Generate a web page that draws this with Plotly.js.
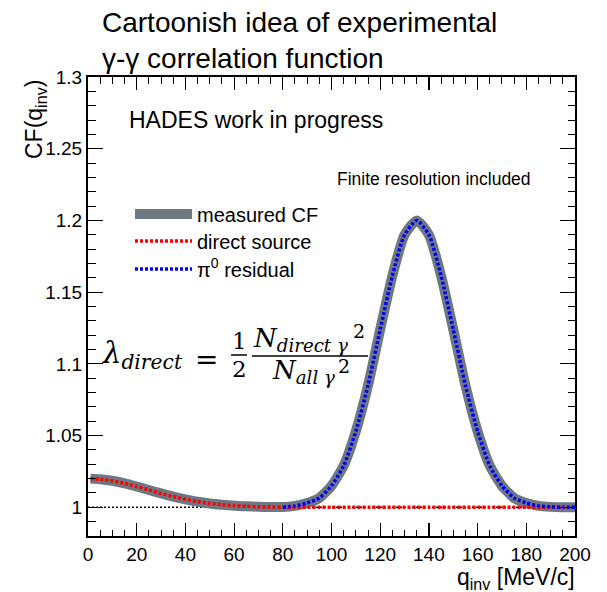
<!DOCTYPE html>
<html>
<head>
<meta charset="utf-8">
<script src="https://cdn.plot.ly/plotly-3.0.1.min.js"></script>
<style>html,body{margin:0;padding:0;background:#fff;}</style>
</head>
<body>
<div id="chart" style="width:607px;height:592px;"></div>
<script>
// ---- data ----
const qMeasured = [1,5,10,15,20,25,30,35,40,45,50,55,60,65,70,75,80,85,90,95,100,105,110,115,120,125,130,135,140,145,150,155,160,165,170,175,180,185,190,195,200];
const cfMeasured = [1.0200,1.0196,1.0185,1.0167,1.0145,1.0121,1.0097,1.0075,1.0056,1.0039,1.0027,1.0018,1.0011,1.0007,1.0004,1.0002,1.0002,1.0010,1.0030,1.0065,1.0150,1.0290,1.0530,1.0850,1.1240,1.1615,1.1900,1.2000,1.1900,1.1615,1.1240,1.0850,1.0530,1.0290,1.0150,1.0065,1.0030,1.0010,1.0003,1.0000,1.0000];

const qDirect = [1,5,10,15,20,25,30,35,40,45,50,55,60,65,70,75,80,85,90,95,100,105,110,115,120,125,130,135,140,145,150,155,160,165,170,175,180,185,190,195,200];
const cfDirect = [1.0200,1.0196,1.0185,1.0167,1.0145,1.0121,1.0097,1.0075,1.0056,1.0039,1.0027,1.0018,1.0011,1.0007,1.0004,1.0002,1.0001,1.0000,1.0000,1.0000,1.0000,1.0000,1.0000,1.0000,1.0000,1.0000,1.0000,1.0000,1.0000,1.0000,1.0000,1.0000,1.0000,1.0000,1.0000,1.0000,1.0000,1.0000,1.0000,1.0000,1.0000];

const qPi0 = [80,85,90,95,100,105,110,115,120,125,130,135,140,145,150,155,160,165,170,175,180,185,190,195,200];
const cfPi0 = [1.0000,1.0010,1.0030,1.0065,1.0150,1.0290,1.0530,1.0850,1.1240,1.1615,1.1900,1.2000,1.1900,1.1615,1.1240,1.0850,1.0530,1.0290,1.0150,1.0065,1.0030,1.0010,1.0003,1.0000,1.0000];

const seriesNames = ['measured CF', 'direct source', 'π<sup>0</sup> residual'];
const xRange = [0, 200];
const yRange = [0.98, 1.3];
const baselineCF = 1;

// ---- layout helpers (pixel -> paper) ----
const L = 88, R = 575, T = 77, B = 536;
function px(x){ return (x - L) / (R - L); }
function py(y){ return (B - y) / (B - T); }

const sans = 'Liberation Sans, Arial, Helvetica, sans-serif';
const serif = 'DejaVu Serif, Liberation Serif, serif';

const traces = [
  {x: qMeasured, y: cfMeasured, name: seriesNames[0], mode: 'lines', legend: 'legend',
   line: {color: '#6e7882', width: 10, shape: 'spline', smoothing: 0.6}},
  {x: qDirect, y: cfDirect, name: seriesNames[1], mode: 'lines', legend: 'legend2',
   line: {color: '#ff0000', width: 3.5, dash: '3px,2px', shape: 'spline', smoothing: 0.6}},
  {x: qPi0, y: cfPi0, name: seriesNames[2], mode: 'lines', legend: 'legend3',
   line: {color: '#0000ff', width: 3.5, dash: '3px,2px', shape: 'spline', smoothing: 0.6}}
];

const axisCommon = {
  showline: true, linecolor: 'black', linewidth: 2, mirror: 'allticks',
  ticks: 'inside', tickcolor: 'black', tickwidth: 1.2,
  showgrid: false, zeroline: false,
  tickfont: {family: sans, size: 19, color: 'black'}
};

function note(text, x, y, xa, ya, font, extra){
  return Object.assign({text: text, xref: 'paper', yref: 'paper', x: px(x), y: py(y),
    xanchor: xa, yanchor: ya, showarrow: false, font: font}, extra || {});
}
function legendAt(yCenter){
  return {
    x: px(130), y: py(yCenter), xanchor: 'left', yanchor: 'middle',
    bgcolor: 'rgba(0,0,0,0)', borderwidth: 0,
    font: {family: sans, size: 20, color: 'black'},
    itemwidth: 57
  };
}

const layout = {
  width: 607, height: 592,
  margin: {l: 88, r: 32, t: 77, b: 56},
  paper_bgcolor: 'white', plot_bgcolor: 'white',
  showlegend: true,
  title: {
    text: 'Cartoonish idea of experimental<br>γ-γ correlation function',
    font: {family: sans, size: 28, color: 'black'},
    x: 102/607, xref: 'container', xanchor: 'left',
    y: 1 - 32/592, yref: 'container', yanchor: 'top'
  },
  xaxis: Object.assign({}, axisCommon, {
    range: xRange, tick0: 0, dtick: 20, ticklen: 13,
    minor: {dtick: 5, ticks: 'inside', ticklen: 6.5, tickcolor: 'black', tickwidth: 1}
  }),
  yaxis: Object.assign({}, axisCommon, {
    range: yRange, tick0: 1, dtick: 0.05, ticklen: 15,
    minor: {dtick: 0.01, ticks: 'inside', ticklen: 7.5, tickcolor: 'black', tickwidth: 1}
  }),
  legend: legendAt(214),
  legend2: legendAt(241),
  legend3: legendAt(269),
  shapes: [
    {type: 'line', xref: 'x', yref: 'y', x0: xRange[0], x1: xRange[1], y0: baselineCF, y1: baselineCF,
     layer: 'below', line: {color: 'black', width: 1.5, dash: '2px,2px'}},
    // fraction bars of the formula
    {type: 'line', xref: 'paper', yref: 'paper', x0: px(231), x1: px(247), y0: py(355), y1: py(355),
     line: {color: 'black', width: 1.5}},
    {type: 'line', xref: 'paper', yref: 'paper', x0: px(252), x1: px(368), y0: py(356), y1: py(356),
     line: {color: 'black', width: 1.5}}
  ],
  annotations: [
    note('HADES work in progress', 127, 120, 'left', 'middle', {family: sans, size: 23, color: 'black'}),
    note('Finite resolution included', 335, 179, 'left', 'middle', {family: sans, size: 17.5, color: 'black'}),
    note('CF(q<sub>inv</sub>)', 35, 120, 'center', 'middle', {family: sans, size: 23, color: 'black'}, {textangle: -90}),
    note('q<sub>inv</sub> [MeV/c]', 577, 578, 'right', 'middle', {family: sans, size: 23, color: 'black'}),
    // formula
    note('<i>λ<sub>direct</sub></i>', 100, 355, 'left', 'middle', {family: serif, size: 29, color: 'black'}),
    note('=', 206, 359, 'center', 'middle', {family: serif, size: 28, color: 'black'}),
    note('1', 239, 341, 'center', 'middle', {family: serif, size: 23, color: 'black'}),
    note('2', 239, 369, 'center', 'middle', {family: serif, size: 23, color: 'black'}),
    note('<i>N<sub>direct γ</sub></i>', 251, 339, 'left', 'middle', {family: serif, size: 26, color: 'black'}),
    note('2', 359, 331, 'center', 'middle', {family: serif, size: 19, color: 'black'}),
    note('<i>N<sub>all γ</sub></i>', 270, 371, 'left', 'middle', {family: serif, size: 26, color: 'black'}),
    note('2', 344, 366, 'center', 'middle', {family: serif, size: 19, color: 'black'})
  ]
};

Plotly.newPlot('chart', traces, layout, {displayModeBar: false, staticPlot: true});
</script>
</body>
</html>
